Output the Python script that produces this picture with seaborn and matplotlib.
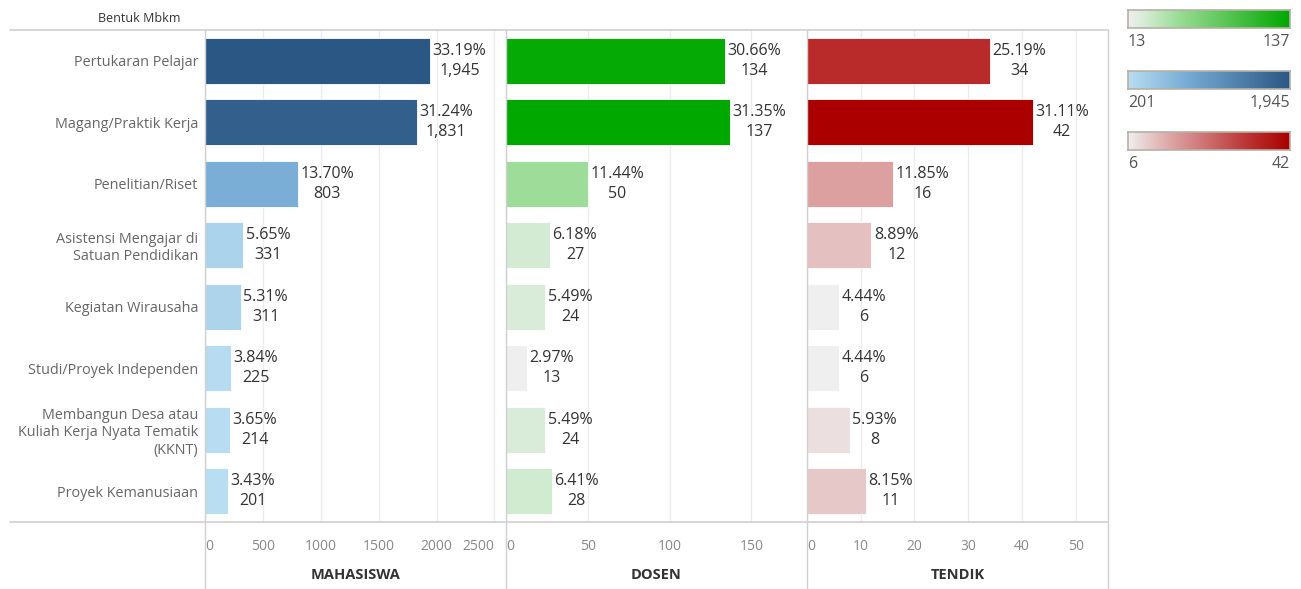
import numpy as np
import pandas as pd
import matplotlib
matplotlib.use("Agg")
import matplotlib.pyplot as plt
import seaborn as sns
from matplotlib.colors import LinearSegmentedColormap, Normalize
from matplotlib.lines import Line2D

sns.set_style("white")
plt.rcParams['font.family'] = ['Open Sans', 'DejaVu Sans']

categories = ["Pertukaran Pelajar", "Magang/Praktik Kerja", "Penelitian/Riset",
              "Asistensi Mengajar di\nSatuan Pendidikan", "Kegiatan Wirausaha",
              "Studi/Proyek Independen",
              "Membangun Desa atau\nKuliah Kerja Nyata Tematik\n(KKNT)",
              "Proyek Kemanusiaan"]
mahasiswa = [1945, 1831, 803, 331, 311, 225, 214, 201]
dosen = [134, 137, 50, 27, 24, 13, 24, 28]
tendik = [34, 42, 16, 12, 6, 6, 8, 11]

panels = ["MAHASISWA", "DOSEN", "TENDIK"]
xmax = [2600, 184, 56]
ticks = [[0, 500, 1000, 1500, 2000, 2500], [0, 50, 100, 150], [0, 10, 20, 30, 40, 50]]

cm_blue = LinearSegmentedColormap.from_list("b", [(0, "#b9ddf1"), (0.345, "#7aaed6"), (1, "#2a5783")])
cm_green = LinearSegmentedColormap.from_list("g", [(0, "#efefef"), (0.1, "#d6ecd5"), (0.3, "#9ddd98"), (1, "#00a800")])
cm_red = LinearSegmentedColormap.from_list("r", [(0, "#efefef"), (0.06, "#ebdddd"), (0.28, "#dca0a0"), (0.78, "#b92a2a"), (1, "#aa0000")])
cmaps = [cm_blue, cm_green, cm_red]

W, H = 1301, 589
fig = plt.figure(figsize=(W / 100, H / 100), dpi=100)
grid_c = "#ececec"
line_c = "#d0d0d0"

series = [mahasiswa, dosen, tendik]
for i, (name, vals) in enumerate(zip(panels, series)):
    left = 205 + i * 301
    ax = fig.add_axes([left / W, 1 - 522 / H, 301 / W, 492 / H])
    norm = Normalize(min(vals), max(vals))
    pal = {c: cmaps[i](norm(v)) for c, v in zip(categories, vals)}
    df = pd.DataFrame({"cat": categories, "val": vals})
    sns.barplot(data=df, x="val", y="cat", hue="cat", palette=pal, legend=False,
                width=0.75, ax=ax, orient="h", edgecolor="white", linewidth=0.6,
                saturation=1)
    total = sum(vals)
    for j, v in enumerate(vals):
        ax.text(v + xmax[i] * 0.008, j, f"{v / total * 100:.2f}%\n{v:,}",
                ha="left", va="center", multialignment="center",
                fontsize=11.5, color="#333333", linespacing=1.3)
    ax.set_xlim(0, xmax[i])
    ax.set_ylim(7.5, -0.5)
    ax.set_xticks(ticks[i])
    ax.xaxis.grid(True, color=grid_c, lw=1)
    ax.set_axisbelow(True)
    for s in ax.spines.values():
        s.set_visible(False)
    ax.tick_params(axis="x", length=0, pad=12, labelsize=10, labelcolor="#888888")
    labs = ax.get_xticklabels()
    labs[0].set_ha("left")
    if i == 0:
        labs[-1].set_ha("right")
    ax.set_xlabel(name, fontsize=10.5, fontweight="bold", color="#333333", labelpad=10)
    ax.set_ylabel("")
    if i == 0:
        ax.tick_params(axis="y", length=0, pad=5, labelsize=10.4, labelcolor="#666666")
        for t in ax.get_yticklabels():
            t.set_multialignment("right")
    else:
        ax.set_yticks([])

# frame lines
for x in [205, 506, 807, 1108]:
    fig.add_artist(Line2D([x / W, x / W], [0, 1 - 30 / H], color=line_c, lw=1))
for y in [30, 522]:
    fig.add_artist(Line2D([10 / W, 1108 / W], [1 - y / H, 1 - y / H], color=line_c, lw=1.2))
fig.text(180 / W, 1 - 18 / H, "Bentuk Mbkm", ha="right", va="center", fontsize=9, color="#333333")

# colour legends
legend_order = [(dosen, cm_green), (mahasiswa, cm_blue), (tendik, cm_red)]
grad = np.linspace(0, 1, 256).reshape(1, -1)
for k, (vals, cmap) in enumerate(legend_order):
    top = 10 + k * 61
    lax = fig.add_axes([1128 / W, 1 - (top + 18) / H, 162 / W, 18 / H])
    lax.imshow(grad, aspect="auto", cmap=cmap)
    lax.set_xticks([])
    lax.set_yticks([])
    for s in lax.spines.values():
        s.set_color("#b5b1a5")
        s.set_linewidth(1.2)
    fig.text(1128 / W, 1 - (top + 32) / H, f"{min(vals):,}", ha="left", va="center",
             fontsize=11.5, color="#555555")
    fig.text(1290 / W, 1 - (top + 32) / H, f"{max(vals):,}", ha="right", va="center",
             fontsize=11.5, color="#555555")

fig.savefig("out.png", dpi=100)
